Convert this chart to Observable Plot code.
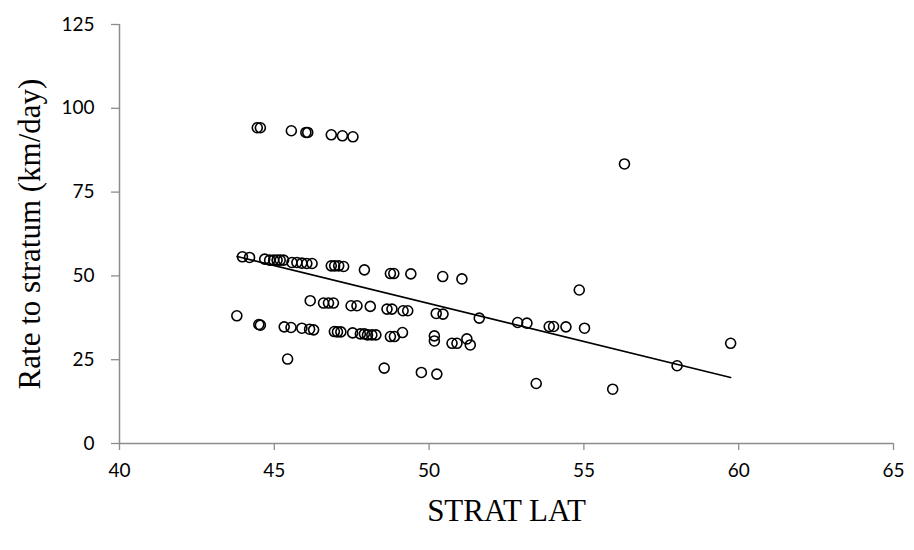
<!DOCTYPE html>
<html>
<head>
<meta charset="utf-8">
<script src="https://cdn.jsdelivr.net/npm/d3@7"></script>
<script src="https://cdn.jsdelivr.net/npm/@observablehq/plot@0.6"></script>
<style>
  html, body { margin: 0; padding: 0; background: #fff; }
</style>
</head>
<body>
<div id="chart"></div>
<script>
// STRAT LAT (x) values
const stratLat = [
  44.45, 44.55, 45.55, 46.02, 46.08, 46.84, 47.20, 47.54,
  56.31,
  43.97, 44.20, 44.69, 44.85, 44.98, 45.09, 45.19, 45.30,
  45.57, 45.73, 45.89, 46.05, 46.22,
  46.84, 46.95, 47.08, 47.24, 47.91, 48.75, 48.86, 49.41,
  50.44, 51.06, 54.85,
  46.16, 46.59, 46.75, 46.91, 47.48, 47.67, 48.10, 48.64, 48.80,
  49.16, 49.31, 50.23, 50.45, 51.62, 52.86, 53.16, 53.88, 54.02,
  54.42, 55.02,
  43.79, 44.50, 44.55, 45.32, 45.54, 45.89, 46.14, 46.27,
  46.94, 47.04, 47.15, 47.53, 47.78, 47.91, 48.01, 48.15, 48.28,
  48.75, 48.88, 49.14, 50.17, 50.17, 50.74, 50.90, 51.22, 51.33,
  59.74,
  45.43, 48.55, 49.75, 50.25, 53.46, 55.93, 58.01
];
// Rate to stratum (km/day) values
const rateToStratum = [
  94.2, 94.2, 93.3, 92.8, 92.8, 92.1, 91.8, 91.5,
  83.4,
  55.7, 55.5, 55.0, 54.7, 54.7, 54.7, 54.7, 54.7,
  54.0, 54.0, 53.8, 53.7, 53.7,
  53.0, 53.0, 53.0, 52.8, 51.8, 50.7, 50.7, 50.6,
  49.8, 49.1, 45.8,
  42.6, 41.9, 41.9, 41.9, 41.1, 41.1, 40.9, 40.1, 40.1,
  39.6, 39.6, 38.8, 38.6, 37.4, 36.1, 35.9, 34.9, 34.9,
  34.8, 34.4,
  38.1, 35.5, 35.3, 34.8, 34.6, 34.4, 34.1, 33.9,
  33.4, 33.3, 33.3, 33.0, 32.7, 32.7, 32.4, 32.4, 32.4,
  31.9, 31.9, 33.1, 32.1, 30.6, 29.9, 29.9, 31.2, 29.4,
  29.9,
  25.2, 22.5, 21.2, 20.7, 17.9, 16.2, 23.2
];
// Linear trendline end points
const trendLat = [43.8, 59.74];
const trendRate = [55.8, 19.7];
const xTicks = [40, 45, 50, 55, 60, 65];
const yTicks = [0, 25, 50, 75, 100, 125];
const xTitle = "STRAT LAT";
const yTitle = "Rate to stratum (km/day)";

const data = stratLat.map((x, i) => ({x, y: rateToStratum[i]}));
const trend = trendLat.map((x, i) => ({x, y: trendRate[i]}));
const axisGray = "#8c8c8c";
const tickFont = "Lato, 'Open Sans', sans-serif";
const titleFont = "'Liberation Serif', 'Times New Roman', serif";

const chart = Plot.plot({
  width: 914,
  height: 550,
  marginLeft: 119,
  marginRight: 21,
  marginTop: 24,
  marginBottom: 107,
  style: {fontFamily: tickFont, color: "#000", background: "#fff"},
  x: {domain: [40, 65], ticks: xTicks},
  y: {domain: [0, 125], ticks: yTicks},
  marks: [
    Plot.axisX({ticks: xTicks, tickSize: 7, tickPadding: 13, stroke: axisGray, strokeWidth: 1.3, fill: "#000", label: null}),
    Plot.axisY({ticks: yTicks, tickSize: 8, tickPadding: 17, stroke: axisGray, strokeWidth: 1.3, fill: "#000", label: null}),
    Plot.ruleY([0], {stroke: axisGray, strokeWidth: 1.5}),
    Plot.ruleX([40], {stroke: axisGray, strokeWidth: 1.5}),
    Plot.line(trend, {x: "x", y: "y", stroke: "black", strokeWidth: 1.6}),
    Plot.dot(data, {x: "x", y: "y", r: 5, stroke: "black", strokeWidth: 1.6, fill: "none"}),
    Plot.text([xTitle], {frameAnchor: "bottom", dy: 77, fontFamily: titleFont, fontSize: 31, fill: "black", ariaLabel: "title"}),
    Plot.text([yTitle], {frameAnchor: "left", dx: -89, rotate: -90, textAnchor: "middle", fontFamily: titleFont, fontSize: 31, fill: "black", ariaLabel: "title"})
  ]
});
d3.select(chart)
  .selectAll('g[aria-label="x-axis tick label"], g[aria-label="y-axis tick label"]')
  .attr("font-size", 19)
  .style("font-size", "19px")
  .style("font-family", tickFont);
document.getElementById("chart").appendChild(chart);
</script>
</body>
</html>
